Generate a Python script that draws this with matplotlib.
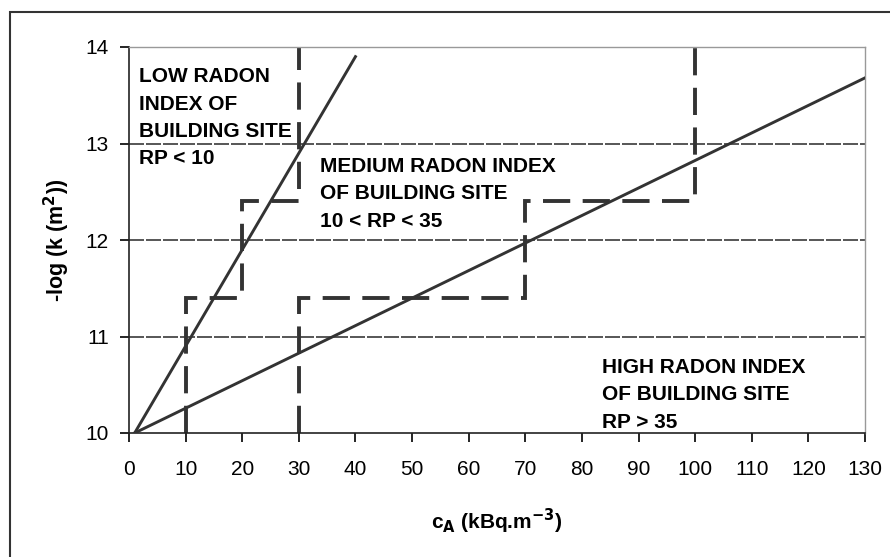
import matplotlib.pyplot as plt
from matplotlib.patches import Rectangle

plt.rcParams['font.family'] = ['Liberation Sans', 'DejaVu Sans']
plt.rcParams['mathtext.default'] = 'bf'

# lines of constant radon potential
steep_x = [1, 40]
steep_y = [10, 13.9]
shallow_x = [1, 130]
shallow_y = [10, 13.68]

# step boundaries between categories
low_x = [10, 10, 20, 20, 30, 30]
low_y = [10, 11.4, 11.4, 12.4, 12.4, 14]
high_x = [30, 30, 70, 70, 100, 100]
high_y = [10, 11.4, 11.4, 12.4, 12.4, 14]

x_ticks = list(range(0, 131, 10))
y_ticks = [10, 11, 12, 13, 14]

labels = [
    (1.8, 13.79, "LOW RADON\nINDEX OF\nBUILDING SITE\nRP < 10"),
    (33.7, 12.86, "MEDIUM RADON INDEX\nOF BUILDING SITE\n10 < RP < 35"),
    (83.5, 10.78, "HIGH RADON INDEX\nOF BUILDING SITE\nRP > 35"),
]

fig = plt.figure(figsize=(8.9, 5.57), dpi=100)
ax = fig.add_axes([129/890, 1 - 433/557, (865 - 129)/890, (433 - 47)/557])

# outer frame of the figure
fig.patches.append(Rectangle((10/890, -0.05), 1.0, 1 - 12/557 + 0.05,
                             transform=fig.transFigure, fill=False,
                             edgecolor='#333333', lw=1.5))

for yv in [11, 12, 13]:
    ax.axhline(yv, color='#3a3a3a', lw=1.2, dashes=(9, 1.2), zorder=1)

line_col = '#333333'
ax.plot(steep_x, steep_y, color=line_col, lw=2.1, zorder=3)
ax.plot(shallow_x, shallow_y, color=line_col, lw=2.1, zorder=3)
for bx, by in [(low_x, low_y), (high_x, high_y)]:
    ax.plot(bx, by, color=line_col, lw=2.8, dashes=(7, 3.2), zorder=2,
            solid_joinstyle='miter', dash_joinstyle='miter', dash_capstyle='butt')

for x, y, t in labels:
    ax.text(x, y, t, fontsize=15, fontweight='bold', va='top', ha='left',
            linespacing=1.56, color='black', zorder=4)

ax.set_xlim(0, 130)
ax.set_ylim(10, 14)
ax.set_xticks(x_ticks)
ax.set_yticks(y_ticks)
ax.tick_params(axis='both', direction='out', labelsize=15, width=1.2, length=6.5)
ax.tick_params(axis='x', pad=13)
ax.tick_params(axis='y', pad=8)

for s in ['top', 'right']:
    ax.spines[s].set_color('#999999')
    ax.spines[s].set_linewidth(1.0)
for s in ['left', 'bottom']:
    ax.spines[s].set_color('#222222')
    ax.spines[s].set_linewidth(1.2)

ax.set_xlabel(r'c$_\mathbf{A}$ (kBq.m$^\mathbf{-3}$)', fontsize=15, fontweight='bold', labelpad=20)
ax.set_ylabel(r'-log (k (m$^\mathbf{2}$))', fontsize=15.5, fontweight='bold', labelpad=10)

fig.savefig('out.png', dpi=100)
